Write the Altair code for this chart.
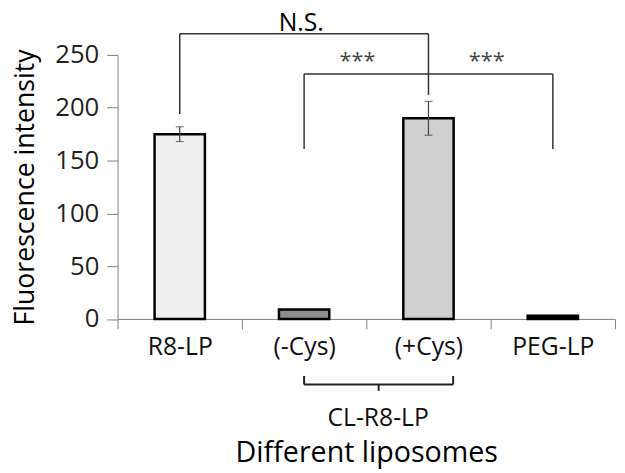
import altair as alt
import pandas as pd

categories = ["R8-LP", "(-Cys)", "(+Cys)", "PEG-LP"]
values = [175, 9, 190, 3]
errors = [7, 0, 16, 0]
fills = ["#efefef", "#8c8c8c", "#cfcfcf", "#000000"]

# significance brackets: (from, to, top, left_leg_bottom, right_leg_bottom)
ns_bracket = ["R8-LP", "(+Cys)", 270, 194, 212]
sig_bracket = ["(-Cys)", "PEG-LP", 232, 161, 161]

FONT = "Open Sans"

bars_df = pd.DataFrame({"cat": categories, "val": values, "err": errors, "fill": fills})
bars_df["lo"] = bars_df["val"] - bars_df["err"]
bars_df["hi"] = bars_df["val"] + bars_df["err"]

segs = []
for b in [ns_bracket, sig_bracket]:
    a, c, top, l, r = b
    segs.append({"x": a, "x2": c, "y": top, "y2": top})
    segs.append({"x": a, "x2": a, "y": l, "y2": top})
    segs.append({"x": c, "x2": c, "y": r, "y2": top})
segs_df = pd.DataFrame(segs)

xscale = alt.Scale(domain=categories, paddingInner=0, paddingOuter=0)
yscale = alt.Scale(domain=[0, 250], nice=False)

x_enc = alt.X(
    "cat:N", scale=xscale, sort=categories,
    axis=alt.Axis(
        title="Different liposomes", labelAngle=0, tickBand="extent",
        labelFont=FONT, labelFontSize=25, labelColor="#111111", labelPadding=6,
        tickSize=10, tickColor="#808080", domainColor="#808080",
        titleFont=FONT, titleFontSize=29, titleFontWeight="normal", titleColor="#000000",
        titlePadding=80,
    ),
)
y_enc = alt.Y(
    "val:Q", scale=yscale,
    axis=alt.Axis(
        title="Fluorescence intensity", values=[0, 50, 100, 150, 200, 250], grid=False,
        labelFont=FONT, labelFontSize=26, labelColor="#222222", labelPadding=8,
        tickSize=11, tickColor="#808080", domainColor="#808080",
        titleFont=FONT, titleFontSize=27, titleFontWeight="normal", titleColor="#000000",
        titlePadding=16,
    ),
)

bars = alt.Chart(bars_df).mark_bar(size=51, stroke="#000000", strokeWidth=2.5).encode(
    x=x_enc, y=y_enc, fill=alt.Fill("fill:N", scale=None)
)

err_df = bars_df[bars_df["err"] > 0]
err_rule = alt.Chart(err_df).mark_rule(color="#444444", strokeWidth=1.2).encode(
    x=alt.X("cat:N", scale=xscale, sort=categories), y="lo:Q", y2="hi:Q"
)
err_cap_hi = alt.Chart(err_df).mark_tick(color="#444444", size=8, thickness=1.2, orient="horizontal").encode(
    x=alt.X("cat:N", scale=xscale, sort=categories), y="hi:Q"
)
err_cap_lo = alt.Chart(err_df).mark_tick(color="#444444", size=8, thickness=1.2, orient="horizontal").encode(
    x=alt.X("cat:N", scale=xscale, sort=categories), y="lo:Q"
)

brackets = alt.Chart(segs_df).mark_rule(color="#333333", strokeWidth=1.5, clip=False).encode(
    x=alt.X("x:N", scale=xscale, sort=categories), x2="x2:N", y="y:Q", y2="y2:Q"
)

def label(text, cat, yv, dx, size, color, baseline="middle"):
    d = pd.DataFrame({"cat": [cat], "v": [yv], "t": [text]})
    return alt.Chart(d).mark_text(
        font=FONT, fontSize=size, color=color, dx=dx, baseline=baseline, align="center", clip=False
    ).encode(x=alt.X("cat:N", scale=xscale, sort=categories), y="v:Q", text="t:N")

ns_text = label("N.S.", "(-Cys)", 273, -3, 25, "#000000", baseline="alphabetic")
star1 = label("***", "(-Cys)", 244, 54, 22, "#444444")
star2 = label("***", "(+Cys)", 244, 59, 22, "#444444")
cl_text = label("CL-R8-LP", "(-Cys)", -94, 75, 25, "#111111")

# brace under (-Cys) and (+Cys)
brace_h = alt.Chart(pd.DataFrame({"x": ["(-Cys)"], "x2": ["(+Cys)"], "y": [-62]})).mark_rule(
    color="#222222", strokeWidth=2, x2Offset=25, clip=False
).encode(x=alt.X("x:N", scale=xscale, sort=categories), x2="x2:N", y="y:Q")
brace_l = alt.Chart(pd.DataFrame({"x": ["(-Cys)"], "y": [-62], "y2": [-54]})).mark_rule(
    color="#222222", strokeWidth=2, clip=False
).encode(x=alt.X("x:N", scale=xscale, sort=categories), y="y:Q", y2="y2:Q")
brace_r = alt.Chart(pd.DataFrame({"x": ["(+Cys)"], "y": [-62], "y2": [-54]})).mark_rule(
    color="#222222", strokeWidth=2, xOffset=25, clip=False
).encode(x=alt.X("x:N", scale=xscale, sort=categories), y="y:Q", y2="y2:Q")
brace_c = alt.Chart(pd.DataFrame({"x": ["(-Cys)"], "y": [-62], "y2": [-68]})).mark_rule(
    color="#222222", strokeWidth=2, xOffset=75.5, clip=False
).encode(x=alt.X("x:N", scale=xscale, sort=categories), y="y:Q", y2="y2:Q")

chart = alt.layer(
    bars, err_rule, err_cap_hi, err_cap_lo, brackets, ns_text, star1, star2,
    brace_h, brace_l, brace_r, brace_c, cl_text,
).properties(
    width=504, height=267.5,
    autosize=alt.AutoSizeParams(type="none"),
    padding={"left": 111, "top": 44.5, "right": 2, "bottom": 153},
).configure_view(stroke=None)

chart.save("out.html", embed_options={"renderer": "svg", "actions": False})
